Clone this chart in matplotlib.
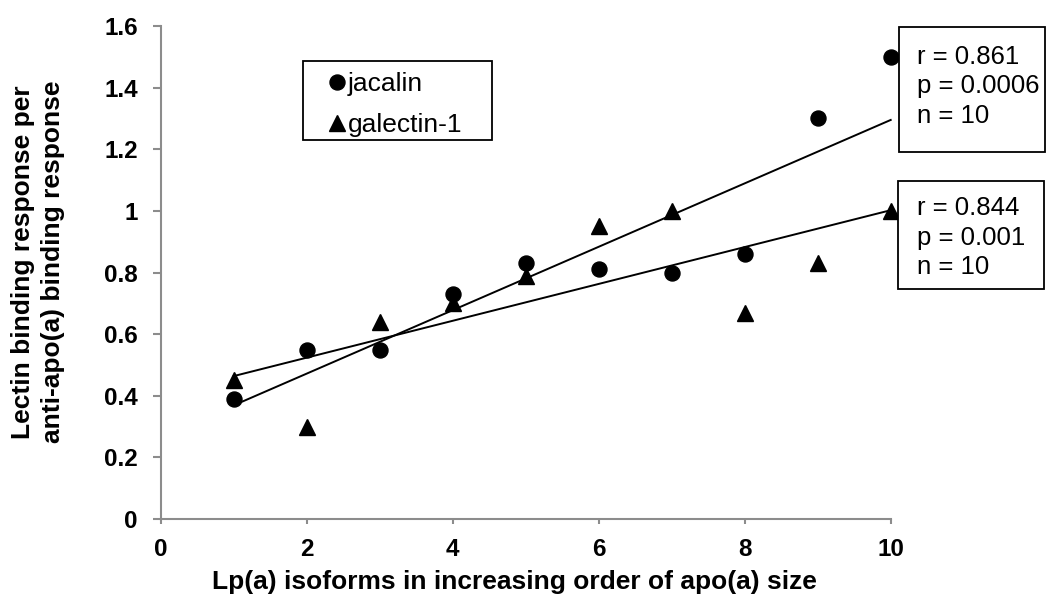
import matplotlib
matplotlib.use("Agg")
import matplotlib.pyplot as plt
import numpy as np
from matplotlib.patches import Rectangle
from matplotlib.ticker import FuncFormatter

plt.rcParams['font.family'] = ['Liberation Sans', 'DejaVu Sans']

# isoform rank (1 = smallest apo(a))
isoform = np.array([1, 2, 3, 4, 5, 6, 7, 8, 9, 10])
jacalin = np.array([0.39, 0.55, 0.55, 0.73, 0.83, 0.81, 0.80, 0.86, 1.30, 1.50])
galectin = np.array([0.45, 0.30, 0.64, 0.70, 0.79, 0.95, 1.00, 0.67, 0.83, 1.00])

jac_stats = ["r = 0.861", "p = 0.0006", "n = 10"]
gal_stats = ["r = 0.844", "p = 0.001", "n = 10"]

W, H = 1047, 595
fig = plt.figure(figsize=(W / 100, H / 100), dpi=100)


def fx(px):
    return px / W


def fy(py):
    return 1 - py / H


ax = fig.add_axes([fx(160.7), fy(519), fx(890.7) - fx(160.7), fy(26) - fy(519)])

ax.plot(isoform, jacalin, 'o', color='black', ms=10.8, clip_on=False, label='jacalin')
ax.plot(isoform, galectin, '^', color='black', ms=11, clip_on=False, label='galectin-1')

# least-squares trend lines over the data range
xs = np.array([isoform.min(), isoform.max()])
for ys in (jacalin, galectin):
    k, b = np.polyfit(isoform, ys, 1)
    ax.plot(xs, k * xs + b, color='black', lw=1.4, clip_on=False, zorder=3)

ax.set_xlim(0, 10)
ax.set_ylim(0, 1.6)
ax.set_xticks(np.arange(0, 11, 2))
ax.set_yticks(np.arange(0, 1.61, 0.2))
ax.yaxis.set_major_formatter(FuncFormatter(lambda v, p: f"{v:g}"))
ax.xaxis.set_major_formatter(FuncFormatter(lambda v, p: f"{v:g}"))

for s in ('top', 'right'):
    ax.spines[s].set_visible(False)
for s in ('left', 'bottom'):
    ax.spines[s].set_color('#8c8c8c')
    ax.spines[s].set_linewidth(1.5)
ax.tick_params(axis='y', direction='out', length=5.5, width=1.5, color='#8c8c8c', pad=11,
               labelsize=17.5)
ax.tick_params(axis='x', direction='out', length=3.5, width=1.5, color='#8c8c8c', pad=10,
               labelsize=17.5)
for lab in ax.get_xticklabels() + ax.get_yticklabels():
    lab.set_fontweight('bold')

fig.text(fx(514), fy(582), "Lp(a) isoforms in increasing order of apo(a) size",
         ha='center', va='center', fontsize=19, fontweight='bold')
fig.text(fx(38), fy(262), "Lectin binding response per\nanti-apo(a) binding response",
         ha='center', va='center', rotation=90, fontsize=19, fontweight='bold',
         multialignment='center', linespacing=1.3)

# legend box
fig.patches.append(Rectangle((fx(303), fy(140)), fx(492) - fx(303), fy(61) - fy(140),
                             transform=fig.transFigure, facecolor='white',
                             edgecolor='black', lw=1.3, zorder=1))
leg = ax.legend(loc='upper left', bbox_to_anchor=(fx(326.5), fy(72)),
                bbox_transform=fig.transFigure, frameon=False, borderpad=0,
                borderaxespad=0, handlelength=0.8, handletextpad=0.0,
                labelspacing=0.65, fontsize=19)
leg.set_zorder(5)
fig.legends.append(leg)
ax.get_legend().remove()

# statistics boxes beside the trend lines
boxes = [((899, 27, 1045, 152), (917, 57), jac_stats),
         ((898, 181, 1044, 289), (917, 208), gal_stats)]
for (x0, y0, x1, y1), (tx, ty), lines in boxes:
    fig.patches.append(Rectangle((fx(x0), fy(y1)), fx(x1) - fx(x0), fy(y0) - fy(y1),
                                 transform=fig.transFigure, facecolor='white',
                                 edgecolor='black', lw=1.3, zorder=1))
    for i, t in enumerate(lines):
        fig.text(fx(tx), fy(ty + i * 29.5), t, ha='left', va='center',
                 fontsize=18.5, zorder=2)

fig.savefig("out.png", dpi=100)
